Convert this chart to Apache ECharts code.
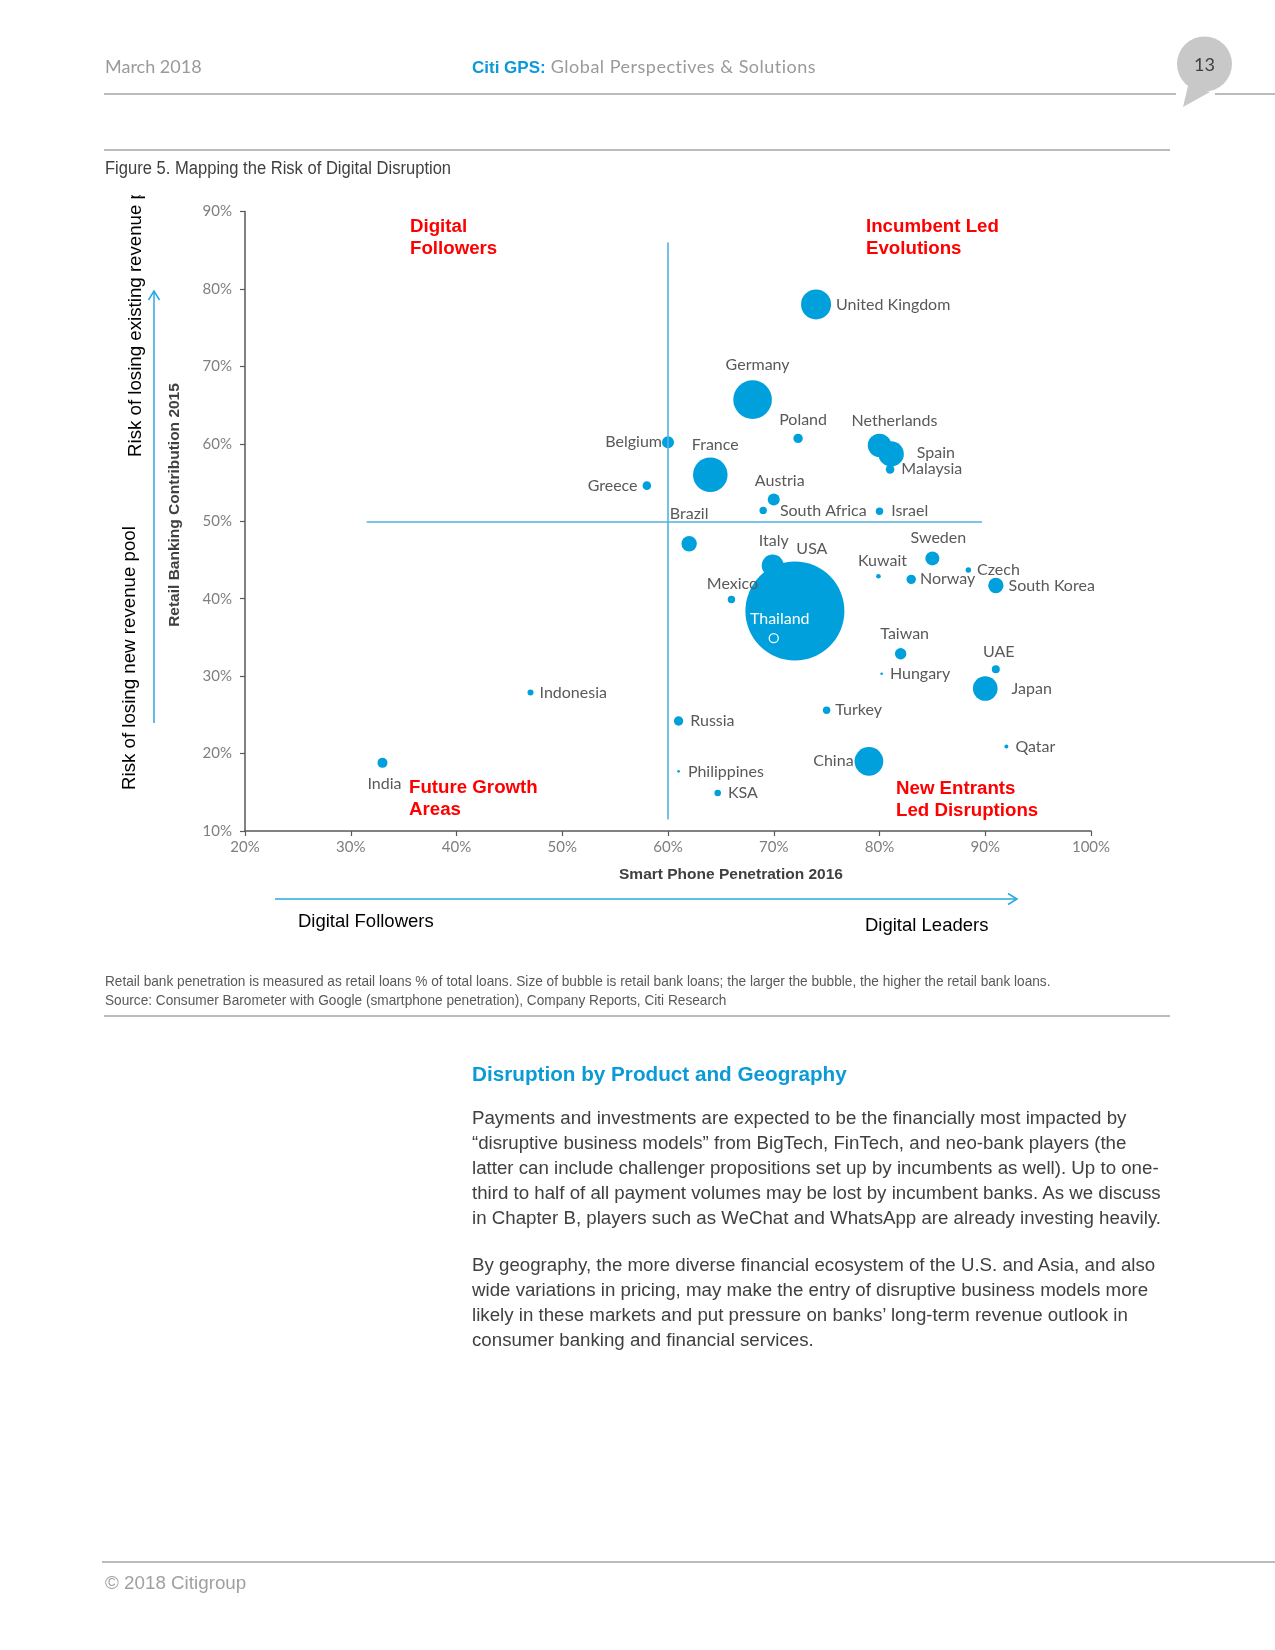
<!DOCTYPE html>
<html>
<head>
<meta charset="utf-8">
<script src="https://cdn.jsdelivr.net/npm/echarts@6/dist/echarts.min.js"></script>
<style>
  html, body { margin:0; padding:0; background:#fff; }
  body { width:1275px; height:1650px; position:relative; overflow:hidden; font-family:"Liberation Sans", Arial, sans-serif; }
  #chart { position:absolute; left:0; top:0; width:1275px; height:1650px; }
  .t { position:absolute; white-space:nowrap; z-index:2; }
  .hdr { font-family:"Lato","Open Sans",sans-serif; font-size:18px; color:#9a9a9a; top:55px; }
  .squeeze { transform-origin:0 0; }
  .rot { position:absolute; z-index:2; overflow:hidden; }
  .rot span { position:absolute; left:0; width:420px; height:36px; line-height:36px; transform-origin:0 0; transform:rotate(-90deg); font-size:18.7px; color:#000; white-space:nowrap; }
  .para { position:absolute; left:472px; font-size:18.7px; color:#404040; line-height:25px; z-index:2; white-space:nowrap; }
</style>
</head>
<body>
<div id="chart"></div>

<div class="t hdr" style="left:105px;">March 2018</div>
<div class="t hdr" style="left:472px; letter-spacing:0.5px;"><span style="font-family:'Liberation Sans',Arial,sans-serif;color:#0a9ad7;font-weight:bold;font-size:17px;letter-spacing:0;">Citi GPS:</span> Global Perspectives &amp; Solutions</div>

<div class="t squeeze" style="left:105px; top:158px; font-size:18px; color:#404040; transform:scaleX(0.92);">Figure 5. Mapping the Risk of Digital Disruption</div>

<div class="rot" style="left:117px; top:195px; width:36px; height:262px;"><span style="top:262px;">Risk of losing existing revenue pool</span></div>
<div class="rot" style="left:111px; top:400px; width:36px; height:390px;"><span style="top:390px;">Risk of losing new revenue pool</span></div>

<div class="t" style="left:298px; top:910px; font-size:18.5px; color:#000;">Digital Followers</div>
<div class="t" style="left:865px; top:914px; font-size:18.5px; color:#000;">Digital Leaders</div>

<div class="t squeeze" style="left:105px; top:971px; font-size:15px; color:#595959; line-height:19px; transform:scaleX(0.91);">Retail bank penetration is measured as retail loans % of total loans. Size of bubble is retail bank loans; the larger the bubble, the higher the retail bank loans.<br>Source: Consumer Barometer with Google (smartphone penetration), Company Reports, Citi Research</div>

<div class="t" style="left:472px; top:1062px; font-size:20.7px; font-weight:bold; color:#0a9ad7;">Disruption by Product and Geography</div>

<div class="para" style="top:1105px;">Payments and investments are expected to be the financially most impacted by<br>“disruptive business models” from BigTech, FinTech, and neo-bank players (the<br>latter can include challenger propositions set up by incumbents as well). Up to one-<br>third to half of all payment volumes may be lost by incumbent banks. As we discuss<br>in Chapter B, players such as WeChat and WhatsApp are already investing heavily.</div>
<div class="para" style="top:1252px;">By geography, the more diverse financial ecosystem of the U.S. and Asia, and also<br>wide variations in pricing, may make the entry of disruptive business models more<br>likely in these markets and put pressure on banks’ long-term revenue outlook in<br>consumer banking and financial services.</div>

<div class="t" style="left:105px; top:1572px; font-size:18.8px; color:#a0a0a0;">© 2018 Citigroup</div>

<script>
// ---- data ----
const countries = ['United Kingdom','Germany','Poland','Netherlands','Spain','Malaysia','Belgium','France','Greece','Austria','South Africa','Israel','Brazil','Italy','USA','Thailand','Mexico','Kuwait','Norway','Sweden','Czech','South Korea','Taiwan','Hungary','UAE','Japan','Turkey','Qatar','China','Russia','Philippines','KSA','Indonesia','India'];
const smartphonePenetration = [74.0,68.0,72.3,80.0,81.1,81.0,60.0,64.0,58.0,70.0,69.0,80.0,62.0,69.9,72.0,70.0,66.0,79.9,83.0,85.0,88.4,91.0,82.0,80.2,91.0,90.0,75.0,92.0,79.0,61.0,61.0,64.7,47.0,33.0];
const retailContribution = [78.0,65.7,60.7,59.8,58.7,56.7,60.2,56.0,54.6,52.8,51.4,51.3,47.1,44.3,38.4,34.9,39.9,42.9,42.5,45.2,43.7,41.7,32.9,30.3,30.9,28.4,25.6,20.9,19.0,24.2,17.7,14.9,27.9,18.8];
const retailLoans = [9.2,15.2,0.90,5.6,6.6,0.75,1.47,12.2,0.75,1.47,0.56,0.56,2.4,4.9,100,0.83,0.56,0.22,0.9,2.0,0.30,2.4,1.33,0.07,0.65,6.2,0.56,0.16,8.4,0.9,0.07,0.44,0.37,1.02];
const xTicks = [20,30,40,50,60,70,80,90,100];
const yTicks = [10,20,30,40,50,60,70,80,90];
const quadrantX = 60, quadrantY = 50;
const vLineRange = [11.5, 86];
const hLineRange = [31.5, 89.7];

// ---- label placement (style) ----
const lbl = {
  'United Kingdom':['right',5,0,0], 'Germany':['top',8,5,0], 'Poland':['top',6,5,0], 'Netherlands':['top',5,15,0],
  'Spain':['right',13,0,-1], 'Malaysia':['right',7,0,-1], 'Belgium':['left',0,0,0], 'France':['top',5,5,0],
  'Greece':['left',5,0,0], 'Austria':['top',5,6,0], 'South Africa':['right',13,0,0], 'Israel':['right',8,0,0],
  'Brazil':['top',14,0,0], 'Italy':['top',6,1,0], 'USA':['top',5,17,0], 'Thailand':['top',6,6,0],
  'Mexico':['top',4,1,0], 'Kuwait':['top',5,4,0], 'Norway':['right',4,0,0], 'Sweden':['top',6,6,0],
  'Czech':['right',6,0,0], 'South Korea':['right',5,0,0], 'Taiwan':['top',6,4,0], 'Hungary':['right',7,0,0],
  'UAE':['top',5,3,0], 'Japan':['right',14,0,0], 'Turkey':['right',5,0,0], 'Qatar':['right',7,0,0],
  'China':['left',1,0,0], 'Russia':['right',7,0,0], 'Philippines':['right',8,0,0], 'KSA':['right',7,0,0],
  'Indonesia':['right',6,0,0], 'India':['bottom',8,2,0]
};

const BLUE = '#00a0dc';
const bubbleData = countries.map((c, i) => {
  const p = lbl[c];
  const item = {
    name: c,
    value: [smartphonePenetration[i], retailContribution[i], retailLoans[i]],
    label: { position: p[0], distance: p[1], offset: [p[2], p[3]] }
  };
  if (c === 'Thailand') {
    item.itemStyle = { borderColor: '#ffffff', borderWidth: 1.3 };
    item.label.color = '#ffffff';
  }
  return item;
});

const chart = echarts.init(document.getElementById('chart'), null, { renderer: 'canvas' });

const axisLabelStyle = { color: '#7f7f7f', fontSize: 15, fontFamily: 'Lato, "Open Sans", sans-serif' };
const gray = '#a6a6a6';

function arrowLine(x1, y1, x2, y2, vertical) {
  const els = [{ type:'line', shape:{x1, y1, x2, y2}, style:{stroke:'#29a8e0', lineWidth:1.5} }];
  if (vertical) {
    els.push({ type:'polyline', shape:{points:[[x2-5.5, y2+9],[x2, y2],[x2+5.5, y2+9]]}, style:{stroke:'#29a8e0', lineWidth:1.5, fill:null} });
  } else {
    els.push({ type:'polyline', shape:{points:[[x2-9, y2-5.5],[x2, y2],[x2-9, y2+5.5]]}, style:{stroke:'#29a8e0', lineWidth:1.5, fill:null} });
  }
  return els;
}

const quadFont = 'bold 18.7px "Liberation Sans", Arial, sans-serif';
function quadText(x, y, text) {
  return { type:'text', x, y, z:10, style:{ text, fill:'#ff0000', font:quadFont, lineHeight:22, textVerticalAlign:'top' } };
}

chart.setOption({
  animation: false,
  backgroundColor: 'transparent',
  grid: { left: 245, right: 184, top: 211.5, bottom: 819, containLabel: false },
  xAxis: {
    type: 'value', min: xTicks[0], max: xTicks[xTicks.length-1], interval: xTicks[1]-xTicks[0],
    axisLine: { show: true, onZero: false, lineStyle: { color: '#595959', width: 1.5 } },
    axisTick: { show: true, length: 5, lineStyle: { color: '#595959', width: 1.2 } },
    axisLabel: Object.assign({ formatter: '{value}%', margin: 9 }, axisLabelStyle),
    splitLine: { show: false }
  },
  yAxis: {
    type: 'value', min: yTicks[0], max: yTicks[yTicks.length-1], interval: yTicks[1]-yTicks[0],
    axisLine: { show: true, onZero: false, lineStyle: { color: '#595959', width: 1.5 } },
    axisTick: { show: true, length: 5, lineStyle: { color: '#595959', width: 1.2 } },
    axisLabel: Object.assign({ formatter: '{value}%', margin: 13 }, axisLabelStyle),
    splitLine: { show: false }
  },
  series: [
    {
      type: 'scatter', z: 1, data: [], silent: true,
      markLine: {
        silent: true, symbol: 'none', animation: false,
        lineStyle: { color: '#4fb3e0', width: 1.6, type: 'solid' },
        label: { show: false },
        data: [
          [{ coord: [quadrantX, vLineRange[0]] }, { coord: [quadrantX, vLineRange[1]] }],
          [{ coord: [hLineRange[0], quadrantY] }, { coord: [hLineRange[1], quadrantY] }]
        ]
      }
    },
    {
      type: 'scatter', z: 3,
      data: bubbleData,
      symbol: 'circle',
      symbolSize: v => 9.9 * Math.sqrt(v[2]),
      itemStyle: { color: BLUE, opacity: 1 },
      label: {
        show: true, formatter: '{b}', color: '#595959', fontSize: 16,
        fontFamily: 'Lato, "Open Sans", sans-serif'
      },
      emphasis: { disabled: true }
    }
  ],
  graphic: [
    { type:'line', shape:{x1:104, y1:94, x2:1176, y2:94}, style:{stroke:gray, lineWidth:1.3} },
    { type:'line', shape:{x1:1215, y1:94, x2:1275, y2:94}, style:{stroke:gray, lineWidth:1.3} },
    { type:'polygon', shape:{points:[[1188,86],[1183,107],[1210,92]]}, style:{fill:'#c8c8c8'} },
    { type:'circle', shape:{cx:1204.5, cy:64, r:27.5}, style:{fill:'#c8c8c8'} },
    { type:'text', x:1204.5, y:65, style:{text:'13', fill:'#404040', font:'18px Lato, "Open Sans", sans-serif', textAlign:'center', textVerticalAlign:'middle'} },
    { type:'line', shape:{x1:104, y1:150, x2:1170, y2:150}, style:{stroke:gray, lineWidth:1.3} },
    { type:'line', shape:{x1:104, y1:1016, x2:1170, y2:1016}, style:{stroke:gray, lineWidth:1.3} },
    { type:'line', shape:{x1:102, y1:1562, x2:1275, y2:1562}, style:{stroke:gray, lineWidth:1.3} },
    { type:'text', x:175, y:505, rotation:Math.PI/2, style:{text:'Retail Banking Contribution 2015', fill:'#404040', font:'bold 15.5px "Liberation Sans", Arial, sans-serif', textAlign:'center', textVerticalAlign:'middle'} },
    { type:'text', x:731, y:875, style:{text:'Smart Phone Penetration 2016', fill:'#404040', font:'bold 15.5px "Liberation Sans", Arial, sans-serif', textAlign:'center', textVerticalAlign:'middle'} },
    ...arrowLine(154, 723, 154, 291, true),
    ...arrowLine(275, 899, 1017, 899, false),
    quadText(410, 216, 'Digital\nFollowers'),
    quadText(866, 216, 'Incumbent Led\nEvolutions'),
    quadText(409, 777, 'Future Growth\nAreas'),
    quadText(896, 778, 'New Entrants\nLed Disruptions')
  ]
});
</script>
</body>
</html>
